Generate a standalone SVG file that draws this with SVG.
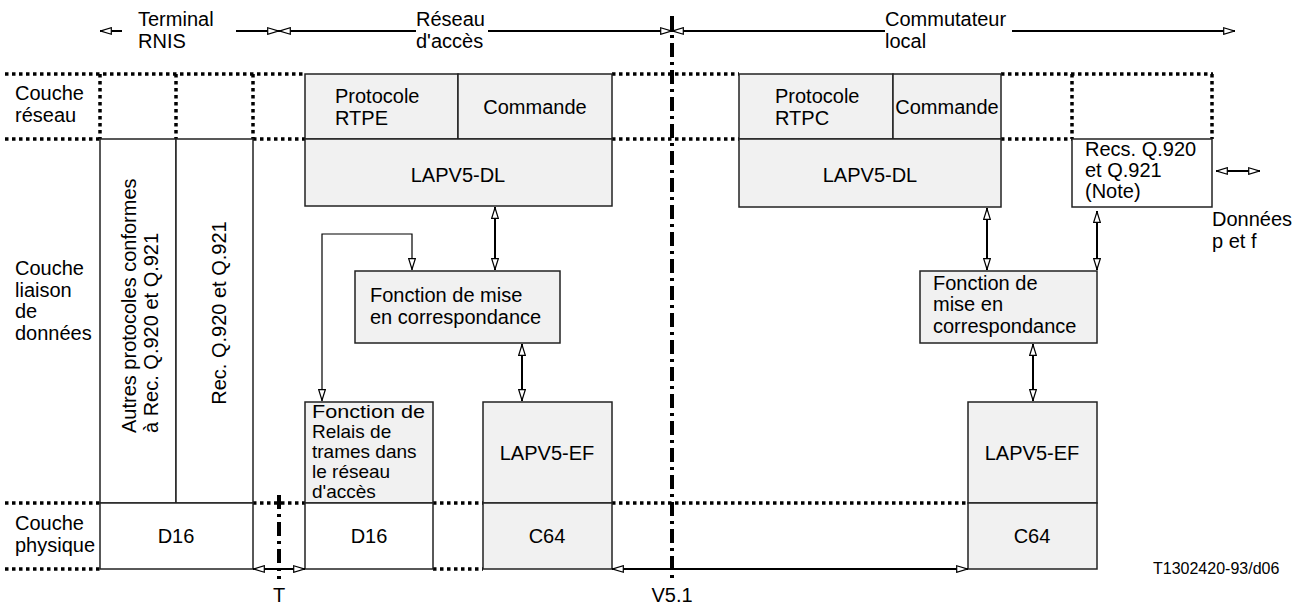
<svg xmlns="http://www.w3.org/2000/svg" width="1305" height="605" viewBox="0 0 1305 605">
  <style>
    text { font-family: "Liberation Sans", Arial, sans-serif; font-size: 20px; fill: #000; }
    .mid { text-anchor: middle; }
    .small { font-size: 16px; }
    .tight { font-size: 19px; }
    .box { fill: #f1f1f1; stroke: #222; stroke-width: 1.5; }
    .wbox { fill: #fff; stroke: #222; stroke-width: 1.5; }
    .dot { stroke: #000; stroke-width: 3.5; stroke-dasharray: 3.5 3.5; fill: none; }
    .dashdot { stroke: #000; stroke-width: 4; stroke-dasharray: 14 5 3 5; fill: none; }
    .arr { stroke: #000; stroke-width: 2; fill: none; }
    .thin { stroke: #000; stroke-width: 1.2; fill: none; }
  </style>
  <defs>
    <marker id="oa" viewBox="0 0 12 8" refX="12" refY="4" markerWidth="12" markerHeight="8" markerUnits="userSpaceOnUse" orient="auto-start-reverse">
      <path d="M0.7,0.7 L11.3,4 L0.7,7.3 Z" fill="#fff" stroke="#000" stroke-width="1.2"/>
    </marker>
  </defs>

  <!-- layer boundaries (dotted) -->
  <g id="layer-grid">
    <path class="dot" d="M5,74 H305 M612,74 H739 M1001,74 H1213"/>
    <path class="dot" d="M5,139 H100 M253,139 H305 M612,139 H739 M1001,139 H1072"/>
    <path class="dot" d="M5,503 H100 M253,503 H305 M433,503 H483 M612,503 H968"/>
    <path class="dot" d="M5,569 H100 M433,569 H483"/>
    <path class="dot" d="M100,74 V139 M176,74 V139 M253,74 V139 M1072,74 V139 M1212,74 V139"/>
  </g>

  <!-- reference points -->
  <g id="reference-points">
    <line class="dashdot" x1="672" y1="16" x2="672" y2="579"/>
    <line class="dashdot" x1="279" y1="495" x2="279" y2="579"/>
    <text class="mid" x="279" y="602">T</text>
    <text class="mid" x="672" y="602">V5.1</text>
  </g>

  <!-- domain headings -->
  <g id="headings">
    <text x="138" y="26">Terminal</text>
    <text x="138" y="48">RNIS</text>
    <text x="416" y="26">Réseau</text>
    <text x="416" y="48">d'accès</text>
    <text x="885" y="26">Commutateur</text>
    <text x="885" y="48">local</text>
  </g>

  <!-- layer names -->
  <g id="layer-labels">
    <text x="15" y="100">Couche</text>
    <text x="15" y="122">réseau</text>
    <text x="15" y="275">Couche</text>
    <text x="15" y="297">liaison</text>
    <text x="15" y="318">de</text>
    <text x="15" y="340">données</text>
    <text x="15" y="530">Couche</text>
    <text x="15" y="552">physique</text>
  </g>

  <!-- ISDN terminal -->
  <g id="terminal-other">
    <rect class="wbox" x="100" y="139" width="76" height="364"/>
    <text transform="translate(136,433) rotate(-90)">Autres protocoles conformes</text>
    <text transform="translate(158,433) rotate(-90)">à Rec. Q.920 et Q.921</text>
  </g>
  <g id="terminal-q921">
    <rect class="wbox" x="176" y="139" width="77" height="364"/>
    <text class="mid" transform="translate(226,313) rotate(-90)">Rec. Q.920 et Q.921</text>
  </g>
  <g id="terminal-d16">
    <rect class="wbox" x="100" y="503" width="153" height="66"/>
    <text class="mid" x="176" y="543">D16</text>
  </g>

  <!-- access network -->
  <g id="an-rtpe">
    <rect class="box" x="305" y="74" width="153" height="65"/>
    <text x="335" y="103">Protocole</text>
    <text x="335" y="125">RTPE</text>
  </g>
  <g id="an-commande">
    <rect class="box" x="458" y="74" width="154" height="65"/>
    <text class="mid" x="535" y="114">Commande</text>
  </g>
  <g id="an-lapv5-dl">
    <rect class="box" x="305" y="139" width="307" height="67"/>
    <text class="mid" x="458" y="182">LAPV5-DL</text>
  </g>
  <g id="an-mapping">
    <rect class="box" x="355" y="271" width="205" height="72"/>
    <text x="370" y="302">Fonction de mise</text>
    <text x="370" y="324">en correspondance</text>
  </g>
  <g id="an-frame-relay">
    <rect class="box" x="305" y="402" width="128" height="101"/>
    <text class="tight" x="312" y="418" textLength="113" lengthAdjust="spacingAndGlyphs">Fonction de</text>
    <text class="tight" x="312" y="438">Relais de</text>
    <text class="tight" x="312" y="458">trames dans</text>
    <text class="tight" x="312" y="478">le réseau</text>
    <text class="tight" x="312" y="498">d'accès</text>
  </g>
  <g id="an-lapv5-ef">
    <rect class="box" x="483" y="402" width="129" height="101"/>
    <text class="mid" x="547" y="460">LAPV5-EF</text>
  </g>
  <g id="an-d16">
    <rect class="wbox" x="305" y="503" width="128" height="66"/>
    <text class="mid" x="369" y="543">D16</text>
  </g>
  <g id="an-c64">
    <rect class="box" x="483" y="503" width="129" height="66"/>
    <text class="mid" x="547" y="543">C64</text>
  </g>

  <!-- local exchange -->
  <g id="le-rtpc">
    <rect class="box" x="739" y="74" width="154" height="65"/>
    <text x="775" y="103">Protocole</text>
    <text x="775" y="125">RTPC</text>
  </g>
  <g id="le-commande">
    <rect class="box" x="893" y="74" width="108" height="65"/>
    <text class="mid" x="947" y="114">Commande</text>
  </g>
  <g id="le-lapv5-dl">
    <rect class="box" x="739" y="139" width="262" height="68"/>
    <text class="mid" x="870" y="182">LAPV5-DL</text>
  </g>
  <g id="le-q921">
    <rect class="wbox" x="1072" y="139" width="140" height="68"/>
    <text x="1085" y="156">Recs. Q.920</text>
    <text x="1085" y="177">et Q.921</text>
    <text x="1085" y="198">(Note)</text>
  </g>
  <g id="le-mapping">
    <rect class="box" x="920" y="271" width="177" height="72"/>
    <text x="933" y="290">Fonction de</text>
    <text x="933" y="311">mise en</text>
    <text x="933" y="333">correspondance</text>
  </g>
  <g id="le-lapv5-ef">
    <rect class="box" x="968" y="402" width="129" height="101"/>
    <text class="mid" x="1032" y="460">LAPV5-EF</text>
  </g>
  <g id="le-c64">
    <rect class="box" x="968" y="503" width="129" height="66"/>
    <text class="mid" x="1032" y="543">C64</text>
  </g>

  <g id="data-label">
    <text x="1212" y="226">Données</text>
    <text x="1212" y="248">p et f</text>
  </g>

  <g id="code">
    <text class="small" x="1153" y="574">T1302420-93/d06</text>
  </g>

  <!-- connectors -->
  <g id="connectors">
    <!-- heading extents -->
    <line class="arr" x1="122" y1="31" x2="100" y2="31" marker-end="url(#oa)"/>
    <line class="arr" x1="236" y1="31" x2="279" y2="31" marker-end="url(#oa)"/>
    <line class="arr" x1="416" y1="31" x2="279" y2="31" marker-end="url(#oa)"/>
    <line class="arr" x1="488" y1="31" x2="672" y2="31" marker-end="url(#oa)"/>
    <line class="arr" x1="885" y1="31" x2="672" y2="31" marker-end="url(#oa)"/>
    <line class="arr" x1="1012" y1="31" x2="1235" y2="31" marker-end="url(#oa)"/>
    <!-- physical links -->
    <line class="arr" x1="253" y1="569" x2="305" y2="569" marker-start="url(#oa)" marker-end="url(#oa)"/>
    <line class="arr" x1="612" y1="569" x2="968" y2="569" marker-start="url(#oa)" marker-end="url(#oa)"/>
    <!-- access network internal -->
    <line class="arr" x1="495" y1="207" x2="495" y2="270" marker-start="url(#oa)" marker-end="url(#oa)"/>
    <line class="arr" x1="522" y1="344" x2="522" y2="401" marker-start="url(#oa)" marker-end="url(#oa)"/>
    <path class="thin" d="M412,270 V234 H322 V401" marker-start="url(#oa)" marker-end="url(#oa)"/>
    <!-- local exchange internal -->
    <line class="arr" x1="987" y1="208" x2="987" y2="270" marker-start="url(#oa)" marker-end="url(#oa)"/>
    <line class="arr" x1="1097" y1="211" x2="1097" y2="270" marker-start="url(#oa)" marker-end="url(#oa)"/>
    <line class="arr" x1="1033" y1="344" x2="1033" y2="401" marker-start="url(#oa)" marker-end="url(#oa)"/>
    <line class="arr" x1="1216" y1="171" x2="1260" y2="171" marker-start="url(#oa)" marker-end="url(#oa)"/>
  </g>
</svg>
